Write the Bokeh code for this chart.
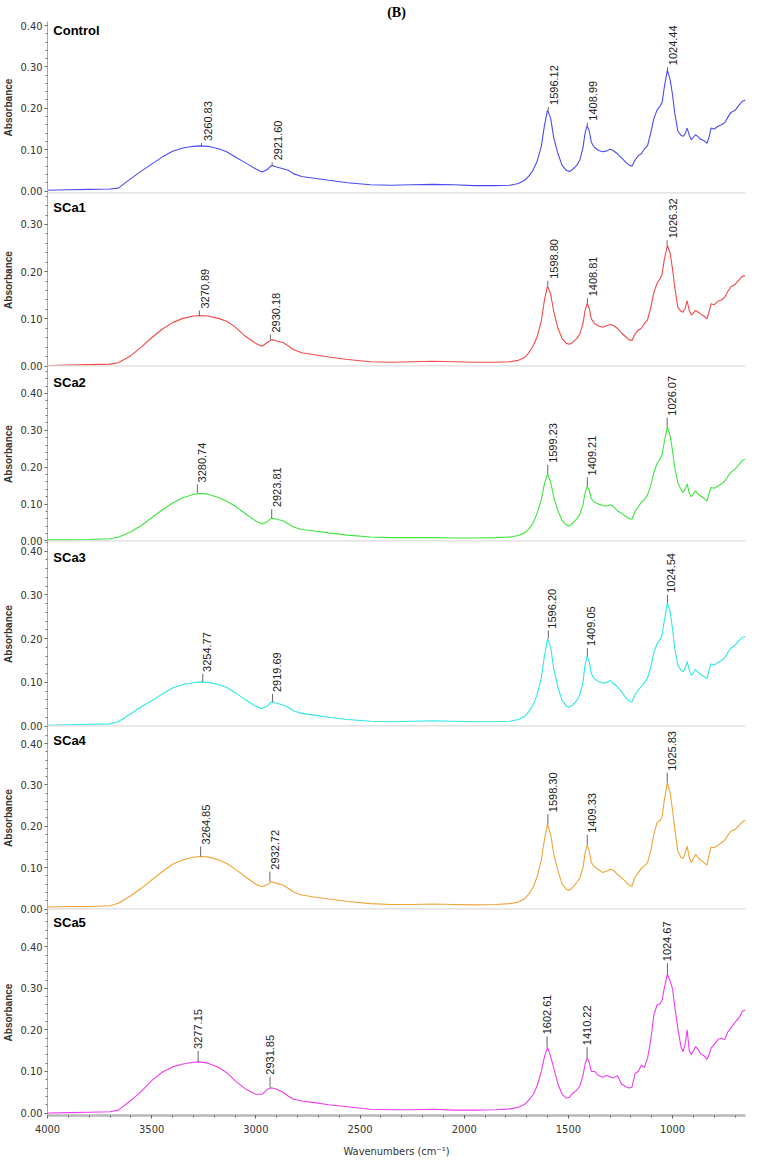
import numpy as np
from bokeh.plotting import figure
from bokeh.layouts import column
from bokeh.models import Range1d, FixedTicker, Span, Label, NumeralTickFormatter
from bokeh.embed import file_html
from bokeh.resources import INLINE
from bokeh.core.properties import value

# ---------------- data ----------------
WAVENUMBERS = [4000, 3900, 3800, 3700, 3660, 3600, 3550, 3500, 3450, 3400, 3350, 3300, 3270, 3230, 3180,
               3140, 3100, 3050, 3000, 2970, 2945, 2925, 2900, 2870, 2845, 2820, 2780, 2720, 2650, 2560,
               2450, 2350, 2250, 2150, 2050, 1950, 1850, 1780, 1740, 1710, 1690, 1670, 1650, 1630, 1615,
               1600, 1585, 1570, 1550, 1530, 1510, 1495, 1480, 1460, 1445, 1430, 1420, 1410, 1400, 1390,
               1375, 1355, 1335, 1315, 1300, 1285, 1265, 1245, 1225, 1210, 1195, 1180, 1165, 1150, 1135,
               1120, 1105, 1090, 1075, 1060, 1050, 1040, 1025, 1012, 1000, 990, 975, 960, 950, 940,
               930, 920, 910, 900, 890, 880, 865, 850, 835, 825, 815, 800, 780, 765, 750,
               735, 720, 700, 680, 665, 650]

CONTROL = [0.002, 0.003, 0.004, 0.005, 0.007, 0.030, 0.048, 0.065, 0.082, 0.096, 0.104, 0.108, 0.109, 0.108, 0.102,
           0.095, 0.083, 0.068, 0.053, 0.046, 0.052, 0.062, 0.058, 0.054, 0.050, 0.042, 0.035, 0.031, 0.026, 0.020,
           0.015, 0.014, 0.015, 0.016, 0.015, 0.013, 0.013, 0.014, 0.018, 0.026, 0.036, 0.050, 0.072, 0.108, 0.158,
           0.196, 0.175, 0.128, 0.090, 0.062, 0.050, 0.047, 0.052, 0.062, 0.075, 0.105, 0.140, 0.158, 0.145, 0.118,
           0.105, 0.098, 0.095, 0.097, 0.101, 0.098, 0.090, 0.080, 0.070, 0.063, 0.060, 0.075, 0.085, 0.090, 0.102,
           0.110, 0.140, 0.175, 0.195, 0.205, 0.215, 0.250, 0.292, 0.270, 0.232, 0.190, 0.145, 0.135, 0.132, 0.138,
           0.152, 0.135, 0.124, 0.130, 0.136, 0.132, 0.125, 0.122, 0.115, 0.130, 0.152, 0.150, 0.157, 0.160, 0.165,
           0.178, 0.190, 0.195, 0.208, 0.217, 0.220]

SCA1 = [0.001, 0.002, 0.003, 0.004, 0.007, 0.022, 0.040, 0.060, 0.078, 0.092, 0.101, 0.106, 0.107, 0.106, 0.101,
        0.095, 0.083, 0.063, 0.048, 0.042, 0.050, 0.056, 0.053, 0.050, 0.043, 0.035, 0.028, 0.024, 0.019, 0.014,
        0.009, 0.008, 0.009, 0.010, 0.009, 0.008, 0.008, 0.009, 0.012, 0.018, 0.028, 0.042, 0.062, 0.095, 0.140,
        0.170, 0.152, 0.115, 0.080, 0.058, 0.048, 0.046, 0.050, 0.058, 0.068, 0.090, 0.118, 0.133, 0.122, 0.100,
        0.090, 0.085, 0.082, 0.086, 0.088, 0.086, 0.080, 0.070, 0.062, 0.056, 0.054, 0.068, 0.076, 0.080, 0.090,
        0.098, 0.124, 0.155, 0.175, 0.185, 0.195, 0.225, 0.256, 0.240, 0.205, 0.168, 0.125, 0.116, 0.114, 0.122,
        0.138, 0.118, 0.108, 0.112, 0.118, 0.115, 0.110, 0.106, 0.100, 0.115, 0.132, 0.130, 0.138, 0.140, 0.146,
        0.158, 0.168, 0.173, 0.183, 0.190, 0.192]

SCA2 = [0.003, 0.003, 0.004, 0.006, 0.010, 0.025, 0.042, 0.063, 0.084, 0.103, 0.117, 0.126, 0.129, 0.127, 0.118,
        0.108, 0.095, 0.074, 0.054, 0.046, 0.053, 0.062, 0.059, 0.055, 0.047, 0.038, 0.031, 0.027, 0.022, 0.016,
        0.011, 0.009, 0.009, 0.009, 0.008, 0.008, 0.009, 0.011, 0.015, 0.022, 0.032, 0.048, 0.075, 0.112, 0.155,
        0.182, 0.160, 0.118, 0.082, 0.055, 0.043, 0.041, 0.048, 0.060, 0.072, 0.098, 0.130, 0.148, 0.138, 0.115,
        0.105, 0.100, 0.096, 0.095, 0.098, 0.094, 0.082, 0.075, 0.067, 0.061, 0.059, 0.080, 0.092, 0.105, 0.112,
        0.125, 0.150, 0.185, 0.210, 0.222, 0.235, 0.268, 0.310, 0.285, 0.244, 0.200, 0.158, 0.140, 0.132, 0.140,
        0.155, 0.130, 0.120, 0.128, 0.136, 0.128, 0.122, 0.116, 0.108, 0.130, 0.145, 0.143, 0.150, 0.155, 0.162,
        0.175, 0.186, 0.195, 0.208, 0.218, 0.222]

SCA3 = [0.002, 0.003, 0.004, 0.005, 0.010, 0.028, 0.044, 0.058, 0.073, 0.087, 0.095, 0.099, 0.101, 0.100, 0.095,
        0.088, 0.077, 0.060, 0.045, 0.040, 0.046, 0.055, 0.052, 0.048, 0.043, 0.035, 0.029, 0.025, 0.020, 0.015,
        0.011, 0.010, 0.011, 0.012, 0.011, 0.010, 0.010, 0.011, 0.015, 0.022, 0.033, 0.048, 0.072, 0.110, 0.160,
        0.200, 0.180, 0.130, 0.088, 0.058, 0.046, 0.043, 0.048, 0.058, 0.072, 0.100, 0.140, 0.160, 0.148, 0.120,
        0.108, 0.102, 0.098, 0.100, 0.104, 0.098, 0.090, 0.078, 0.065, 0.058, 0.055, 0.072, 0.082, 0.090, 0.100,
        0.110, 0.135, 0.168, 0.188, 0.198, 0.210, 0.240, 0.282, 0.262, 0.222, 0.180, 0.140, 0.128, 0.124, 0.132,
        0.148, 0.128, 0.116, 0.122, 0.130, 0.124, 0.118, 0.114, 0.108, 0.128, 0.142, 0.140, 0.146, 0.150, 0.156,
        0.168, 0.178, 0.185, 0.196, 0.203, 0.205]

SCA4 = [0.005, 0.006, 0.006, 0.008, 0.014, 0.032, 0.050, 0.070, 0.090, 0.108, 0.119, 0.125, 0.127, 0.126, 0.119,
        0.110, 0.097, 0.078, 0.060, 0.054, 0.059, 0.066, 0.062, 0.058, 0.050, 0.041, 0.034, 0.029, 0.024, 0.018,
        0.013, 0.011, 0.011, 0.012, 0.011, 0.010, 0.011, 0.013, 0.017, 0.025, 0.036, 0.052, 0.078, 0.118, 0.168,
        0.205, 0.180, 0.132, 0.092, 0.060, 0.048, 0.045, 0.052, 0.064, 0.075, 0.100, 0.135, 0.155, 0.140, 0.112,
        0.102, 0.095, 0.088, 0.092, 0.096, 0.094, 0.084, 0.076, 0.066, 0.058, 0.055, 0.078, 0.088, 0.098, 0.105,
        0.112, 0.140, 0.180, 0.208, 0.214, 0.225, 0.262, 0.305, 0.282, 0.238, 0.195, 0.140, 0.125, 0.122, 0.135,
        0.152, 0.125, 0.112, 0.122, 0.132, 0.126, 0.118, 0.112, 0.106, 0.130, 0.150, 0.148, 0.155, 0.160, 0.166,
        0.178, 0.188, 0.192, 0.203, 0.211, 0.215]

SCA5 = [0.000, 0.001, 0.002, 0.003, 0.007, 0.030, 0.052, 0.078, 0.098, 0.111, 0.118, 0.122, 0.123, 0.120, 0.110,
        0.097, 0.078, 0.058, 0.045, 0.045, 0.057, 0.061, 0.057, 0.050, 0.041, 0.033, 0.029, 0.025, 0.020, 0.015,
        0.009, 0.008, 0.008, 0.009, 0.007, 0.007, 0.008, 0.010, 0.014, 0.021, 0.031, 0.044, 0.065, 0.100, 0.135,
        0.158, 0.135, 0.108, 0.070, 0.045, 0.036, 0.038, 0.047, 0.055, 0.065, 0.090, 0.118, 0.132, 0.122, 0.100,
        0.100, 0.090, 0.086, 0.090, 0.087, 0.084, 0.090, 0.070, 0.064, 0.060, 0.062, 0.095, 0.100, 0.115, 0.110,
        0.132, 0.175, 0.235, 0.260, 0.263, 0.272, 0.300, 0.334, 0.318, 0.298, 0.258, 0.205, 0.160, 0.148, 0.165,
        0.200, 0.150, 0.140, 0.150, 0.160, 0.155, 0.143, 0.138, 0.129, 0.140, 0.156, 0.165, 0.178, 0.180, 0.176,
        0.195, 0.205, 0.218, 0.230, 0.245, 0.248]

NAMES = ["Control", "SCa1", "SCa2", "SCa3", "SCa4", "SCa5"]
SERIES = [CONTROL, SCA1, SCA2, SCA3, SCA4, SCA5]

PEAK_WN = [
    [3260.83, 2921.60, 1596.12, 1408.99, 1024.44],
    [3270.89, 2930.18, 1598.80, 1408.81, 1026.32],
    [3280.74, 2923.81, 1599.23, 1409.21, 1026.07],
    [3254.77, 2919.69, 1596.20, 1409.05, 1024.54],
    [3264.85, 2932.72, 1598.30, 1409.33, 1025.83],
    [3277.15, 2931.85, 1602.61, 1410.22, 1024.67],
]
PEAK_ABS = [
    [0.109, 0.062, 0.196, 0.158, 0.292],
    [0.107, 0.056, 0.170, 0.133, 0.256],
    [0.129, 0.062, 0.182, 0.148, 0.310],
    [0.101, 0.055, 0.200, 0.160, 0.282],
    [0.127, 0.066, 0.205, 0.155, 0.305],
    [0.123, 0.061, 0.158, 0.132, 0.334],
]

Y_TICKS = [0.0, 0.1, 0.2, 0.3, 0.4]
X_TICKS = [4000, 3500, 3000, 2500, 2000, 1500, 1000]

# ---------------- styles / layout ----------------
COLORS = ["#4b4bf5", "#f54848", "#3ee63e", "#2ee8e8", "#f0a436", "#f03cf0"]
FRAME_H = [172, 173, 175, 185, 183, 206]
Y_START = [-0.006, -0.001, -0.0014, -0.001, -0.0012, -0.006]
Y_END = [0.4097, 0.3657, 0.4732, 0.4222, 0.4411, 0.4898]
TICK_LEN = [3, 5, 9, 8, 10, 11]
LABEL_DX = [6, 6, 5, 4, 5, 0]
NAME_DY = [9, 14, 16, 16, 14, 13]
OVERLAP = 8  # px of bottom border that the next panel covers (keeps 0.00 labels unclipped)

FONT = "Liberation Sans"
NARROW = "Liberation Sans Narrow, DejaVu Sans Condensed, Liberation Sans"

x_range = Range1d(4000, 650)
figs = []
for i in range(6):
    first = i == 0
    last = i == 5
    p = figure(frame_width=698, frame_height=FRAME_H[i],
               x_range=x_range, y_range=Range1d(Y_START[i], Y_END[i]),
               output_backend="svg", toolbar_location=None,
               x_axis_location="below" if last else None,
               min_border_left=42, min_border_right=4,
               min_border_top=0, min_border_bottom=0 if last else OVERLAP,
               margin=(0, 0, 0, 0) if last else (0, 0, -OVERLAP, 0),
               title="(B)" if first else None)
    p.background_fill_alpha = 0
    p.border_fill_alpha = 0
    p.outline_line_color = None
    p.grid.visible = False

    if first:
        p.title.align = "center"
        p.title.offset = -19
        p.title.text_font = "Liberation Serif"
        p.title.text_font_size = "14px"
        p.title.text_font_style = "bold"
        p.title.text_color = "black"
        p.title.standoff = 4

    ya = p.yaxis[0]
    ya.ticker = FixedTicker(ticks=Y_TICKS, minor_ticks=[round(0.02 * k, 2) for k in range(0, 25)])
    ya.formatter = NumeralTickFormatter(format="0.00")
    ya.axis_label = "Absorbance"
    ya.axis_label_text_font = FONT
    ya.axis_label_text_font_size = "10px"
    ya.axis_label_text_font_style = "bold"
    ya.axis_label_text_color = "#333333"
    ya.axis_label_standoff = 3
    ya.major_label_text_font = NARROW
    ya.major_label_text_font_size = "11px"
    ya.major_label_text_color = "#333333"
    ya.major_label_standoff = 2
    ya.axis_line_color = "#a8a8a8"
    ya.axis_line_width = 1
    ya.major_tick_line_color = "#555555"
    ya.minor_tick_line_color = "#777777"
    ya.major_tick_in = 0
    ya.major_tick_out = 3
    ya.minor_tick_in = 0
    ya.minor_tick_out = 2

    if last:
        xa = p.xaxis[0]
        xa.ticker = FixedTicker(ticks=X_TICKS, minor_ticks=list(range(700, 4001, 100)))
        xa.axis_label = "Wavenumbers (cm\u207b\u00b9)"
        xa.axis_label_text_font = NARROW
        xa.axis_label_text_font_size = "11px"
        xa.axis_label_text_font_style = "normal"
        xa.axis_label_text_color = "#333333"
        xa.axis_label_standoff = 9
        xa.major_label_text_font = NARROW
        xa.major_label_text_font_size = "11px"
        xa.major_label_text_color = "#333333"
        xa.major_label_standoff = 6
        xa.axis_line_color = "#b8b8b8"
        xa.axis_line_width = 2.5
        xa.major_tick_line_color = "#555555"
        xa.minor_tick_line_color = "#666666"
        xa.major_tick_in = 0
        xa.major_tick_out = 3
        xa.minor_tick_in = 0
        xa.minor_tick_out = 2
    else:
        p.add_layout(Span(location=Y_START[i], dimension="width",
                          line_color="#dcdcdc", line_width=2.5))

    # spectrum
    p.line(WAVENUMBERS, SERIES[i], line_color=COLORS[i], line_width=1.1)

    # peak markers
    pxper = FRAME_H[i] / (Y_END[i] - Y_START[i])
    wn = PEAK_WN[i]
    ab = PEAK_ABS[i]
    top = [a + TICK_LEN[i] / pxper for a in ab]
    p.segment(x0=wn, y0=ab, x1=wn, y1=top, line_color="#666666", line_width=1)
    p.text(x=wn, y=[a + (TICK_LEN[i] + 2) / pxper for a in ab],
           text=["%.2f" % w for w in wn], angle=np.pi / 2,
           x_offset=LABEL_DX[i], text_align="left", text_baseline="middle",
           text_font=value(FONT), text_font_size="11px", text_color="#222222")

    # panel name
    p.add_layout(Label(x=3972, y=Y_END[i] - NAME_DY[i] / pxper, text=NAMES[i],
                       text_baseline="middle", text_align="left",
                       text_font=FONT, text_font_size="13px",
                       text_font_style="bold", text_color="black"))
    figs.append(p)

layout = column(*figs, spacing=0)
open("out.html", "w").write(file_html(layout, INLINE))
